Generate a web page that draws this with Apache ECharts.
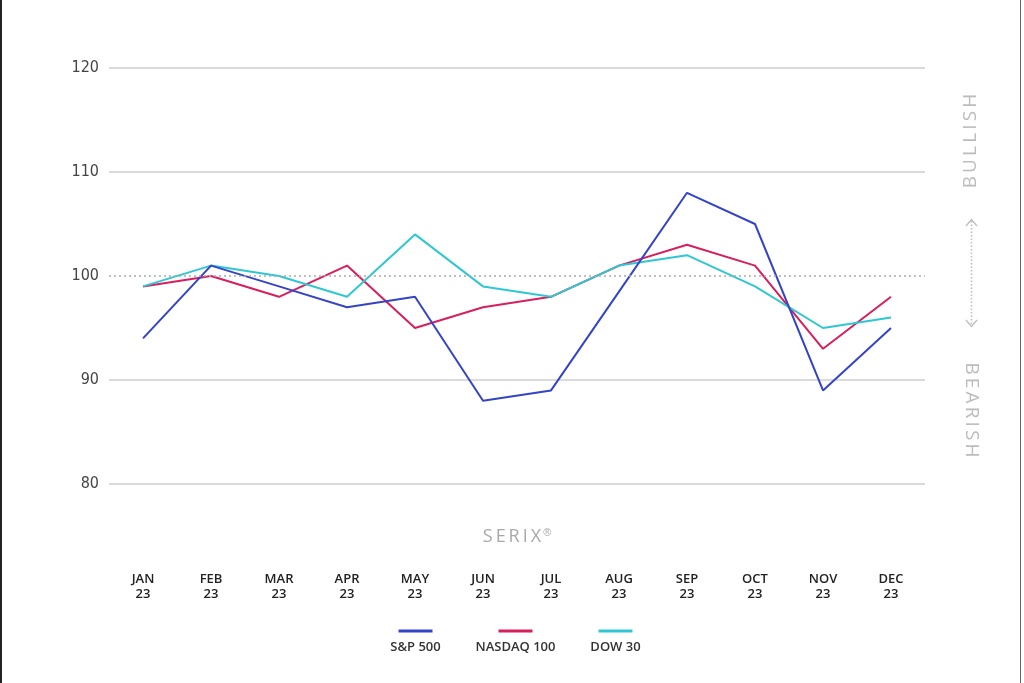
<!DOCTYPE html>
<html>
<head>
<meta charset="utf-8">
<script src="https://cdn.jsdelivr.net/npm/echarts@6/dist/echarts.min.js"></script>
<style>
html,body{margin:0;padding:0;background:#fff;}
#chart{width:1024px;height:683px;}
</style>
</head>
<body>
<div id="chart"></div>
<script>
const months = ['JAN\n23','FEB\n23','MAR\n23','APR\n23','MAY\n23','JUN\n23','JUL\n23','AUG\n23','SEP\n23','OCT\n23','NOV\n23','DEC\n23'];
const sp500 = [94, 101, 99, 97, 98, 88, 89, 98.5, 108, 105, 89, 95];
const nasdaq100 = [99, 100, 98, 101, 95, 97, 98, 101, 103, 101, 93, 98];
const dow30 = [99, 101, 100, 98, 104, 99, 98, 101, 102, 99, 95, 96];
const seriesNames = ['S&P 500', 'NASDAQ 100', 'DOW 30'];
const colors = ['#3444c6', '#d81f5e', '#2ec7d3'];
const neutralLevel = 100;

const chart = echarts.init(document.getElementById('chart'), null, {renderer: 'canvas'});
const sp = '\u2009';
const spaced = s => s.split('').join(sp);

const option = {
  backgroundColor: '#fff',
  animation: false,
  grid: {left: 109, right: 99, top: 68, bottom: 199, containLabel: false},
  xAxis: {
    type: 'category',
    data: months,
    boundaryGap: true,
    axisLine: {show: false},
    axisTick: {show: false},
    splitLine: {show: false},
    axisLabel: {
      margin: 88,
      color: '#222',
      fontFamily: 'Open Sans',
      fontWeight: 600,
      fontSize: 13,
      lineHeight: 15
    }
  },
  yAxis: {
    type: 'value',
    min: 80, max: 120, interval: 10,
    axisLine: {show: false},
    axisTick: {show: false},
    axisLabel: {
      margin: 10,
      color: '#444',
      fontFamily: '"DejaVu Sans Condensed", "Liberation Sans Narrow", Roboto',
      fontSize: 16
    },
    splitLine: {
      show: true,
      lineStyle: {color: ['#cfcfcf', '#cfcfcf', 'rgba(0,0,0,0)', '#cfcfcf', '#cfcfcf'], width: 1.5}
    }
  },
  legend: {
    bottom: 24,
    left: 358,
    itemGap: 0,
    itemWidth: 0,
    itemHeight: 0,
    icon: 'none',
    data: seriesNames,
    selectedMode: false,
    formatter: function (name) {
      const i = seriesNames.indexOf(name);
      return '{l' + i + '|}\n{n|' + name + '}';
    },
    textStyle: {
      rich: {
        l0: {width: 34, height: 3, backgroundColor: colors[0], align: 'center'},
        l1: {width: 34, height: 3, backgroundColor: colors[1], align: 'center'},
        l2: {width: 34, height: 3, backgroundColor: colors[2], align: 'center'},
        n: {width: 95, align: 'center', fontFamily: 'Open Sans', fontWeight: 600, fontSize: 13, color: '#333', lineHeight: 24, padding: [6, 0, 0, 0]}
      }
    }
  },
  series: [
    {
      name: seriesNames[0], type: 'line', data: sp500, symbol: 'none',
      lineStyle: {color: colors[0], width: 2}, itemStyle: {color: colors[0]},
      markLine: {
        silent: true, symbol: 'none', label: {show: false},
        lineStyle: {color: '#aaaaaa', type: [2, 3], width: 1.5},
        data: [{yAxis: neutralLevel}]
      },
      z: 3
    },
    {
      name: seriesNames[1], type: 'line', data: nasdaq100, symbol: 'none',
      lineStyle: {color: colors[1], width: 2}, itemStyle: {color: colors[1]}, z: 2
    },
    {
      name: seriesNames[2], type: 'line', data: dow30, symbol: 'none',
      lineStyle: {color: colors[2], width: 2}, itemStyle: {color: colors[2]}, z: 2
    }
  ],
  graphic: [
    {type: 'rect', left: 0, top: 0, shape: {width: 2, height: 683}, style: {fill: '#222'}},
    {type: 'rect', left: 1020, top: 0, shape: {width: 1, height: 683}, style: {fill: '#666'}},
    {
      type: 'text', x: 517, y: 537,
      style: {
        text: spaced('SERIX') + '{s|®}', x: 0, y: 0, align: 'center', verticalAlign: 'middle',
        fill: '#a8a8a8', font: '400 18px "Open Sans"',
        rich: {s: {fontSize: 11, verticalAlign: 'top', fill: '#a8a8a8', padding: [0, 0, 8, 2]}}
      }
    },
    {
      type: 'text', x: 971, y: 141, rotation: Math.PI / 2,
      style: {text: spaced('BULLISH'), x: 0, y: 0, align: 'center', verticalAlign: 'middle', fill: '#bcbcbc', font: '400 19px "Open Sans"'}
    },
    {
      type: 'text', x: 971, y: 410, rotation: -Math.PI / 2,
      style: {text: spaced('BEARISH'), x: 0, y: 0, align: 'center', verticalAlign: 'middle', fill: '#bcbcbc', font: '400 19px "Open Sans"'}
    },
    {type: 'line', shape: {x1: 971.5, y1: 221, x2: 971.5, y2: 324}, style: {stroke: '#bbb', lineWidth: 1.5, lineDash: [1.5, 2]}},
    {type: 'polyline', shape: {points: [[966, 226], [971.5, 219.5], [977, 226]]}, style: {stroke: '#bbb', lineWidth: 1.2, fill: null}},
    {type: 'polyline', shape: {points: [[966, 320], [971.5, 326.5], [977, 320]]}, style: {stroke: '#bbb', lineWidth: 1.2, fill: null}}
  ]
};
chart.setOption(option);
</script>
</body>
</html>
